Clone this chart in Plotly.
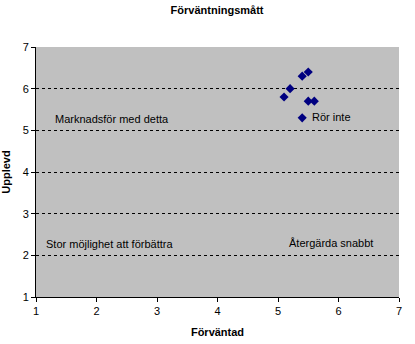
import plotly.graph_objects as go

# Förväntad (x) vs Upplevd (y)
forvantad = [5.4, 5.5, 5.2, 5.1, 5.5, 5.6, 5.4]
upplevd = [6.3, 6.4, 6.0, 5.8, 5.7, 5.7, 5.3]

ticks = [1, 2, 3, 4, 5, 6, 7]

# Quadrant labels: text, x, y
quad_text = ["Marknadsför med detta", "Rör inte", "Stor möjlighet att förbättra", "Återgärda snabbt"]
quad_x = [2.26, 5.89, 2.21, 5.88]
quad_y = [5.27, 5.31, 2.27, 2.30]

FONT = "Liberation Sans, Arial, sans-serif"

fig = go.Figure()
fig.add_trace(go.Scatter(
    x=forvantad, y=upplevd, mode="markers",
    marker=dict(symbol="diamond", size=7, color="#000080"),
    showlegend=False, cliponaxis=False,
))

for t, x, y in zip(quad_text, quad_x, quad_y):
    fig.add_annotation(x=x, y=y, text=t, showarrow=False,
                       font=dict(family=FONT, size=11, color="black"))

fig.update_layout(
    width=415, height=344,
    margin=dict(l=36, r=16, t=47, b=47),
    paper_bgcolor="white", plot_bgcolor="#c0c0c0",
    font=dict(family=FONT, size=11, color="black"),
    title=dict(text="<b>Förväntningsmått</b>", x=0.523, xanchor="center",
               y=0.97, yanchor="middle", font=dict(size=11)),
)
fig.update_xaxes(
    range=[1, 7], tickvals=ticks, showgrid=False, zeroline=False,
    showline=True, linecolor="black", linewidth=1, automargin=False,
    ticks="outside", ticklen=4, tickcolor="black",
    title=dict(text="<b>Förväntad</b>", standoff=12, font=dict(size=11)),
)
fig.update_yaxes(
    range=[1, 7], tickvals=ticks, showgrid=True, gridcolor="black",
    griddash="3px,3px", gridwidth=1, zeroline=False,
    showline=True, linecolor="black", linewidth=1, automargin=False,
    ticks="outside", ticklen=4, tickcolor="black",
    title=dict(text="<b>Upplevd</b>", standoff=10, font=dict(size=11)),
)

fig.write_html("out.html")
